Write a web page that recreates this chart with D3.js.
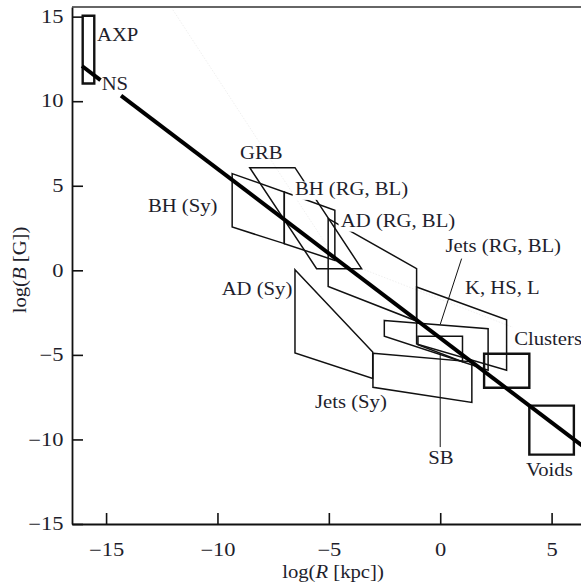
<!DOCTYPE html>
<html>
<head>
<meta charset="utf-8">
<script src="https://cdn.jsdelivr.net/npm/d3@7"></script>
<style>
  html, body { margin: 0; padding: 0; background: #fff; }
  svg { display: block; font-family: "Liberation Serif", "Times New Roman", serif; }
</style>
</head>
<body>
<svg id="chart" width="581" height="588"></svg>
<script>
// axis ticks
const xTicks = [-15, -10, -5, 0, 5];
const yTicks = [-15, -10, -5, 0, 5, 10, 15];

// object classes: corners in (log R, log B)
const regionNames = ['AXP / NS', 'GRB', 'BH (Sy)', 'BH (RG, BL)', 'AD (RG, BL)', 'AD (Sy)',
  'Jets (Sy)', 'Jets (RG, BL)', 'K, HS, L', 'SB', 'Clusters', 'Voids'];
const regionCorners = [
  [[-16.05, 15.05], [-15.53, 15.05], [-15.53, 11.05], [-16.05, 11.05]],
  [[-8.55, 6.07], [-6.52, 6.07], [-3.53, 0.1], [-5.55, 0.1]],
  [[-9.34, 5.72], [-7.0, 4.63], [-7.0, 1.58], [-9.34, 2.56]],
  [[-7.0, 4.63], [-4.73, 3.55], [-4.73, 0.59], [-7.0, 1.58]],
  [[-5.03, 3.06], [-1.06, 0.1], [-1.06, -3.0], [-5.03, -0.95]],
  [[-6.52, 0.04], [-3.03, -4.83], [-3.03, -6.4], [-6.52, -4.89]],
  [[-3.02, -4.91], [1.42, -5.41], [1.42, -7.81], [-3.02, -6.92]],
  [[-2.51, -2.96], [2.15, -3.45], [2.15, -5.91], [-2.51, -3.9]],
  [[-1.06, -0.99], [2.98, -2.92], [2.98, -5.91], [-1.06, -4.35]],
  [[-1.0, -3.9], [1.0, -3.9], [1.0, -5.4], [-1.0, -4.4]],
  [[1.97, -4.93], [4.0, -4.93], [4.0, -6.94], [1.97, -6.94]],
  [[4.0, -8.0], [6.0, -8.0], [6.0, -10.9], [4.0, -10.9]]
];
const heavyRegions = ['AXP / NS', 'Clusters', 'Voids'];

// fitted relation log B = a + b log R, drawn in two pieces (gap at NS)
const fitA = -4.0;
const fitB = -1.0;
const fitPieces = [[-16.08, -15.25], [-14.33, 6.6]];

// leader lines
const leaders = [
  [[0.96, 0.69], [0.0, -3.2]],
  [[0.0, -4.9], [0.0, -10.45]]
];
// faint hairlines
const faint = [
  [[-12.0, 15.4], [-4.95, 1.18]],
  [[-3.53, 0.1], [3.26, -3.37]]
];

// labels: text, anchor (log R, log B) of left/baseline
const labelText = ['AXP', 'NS', 'GRB', 'BH (Sy)', 'BH (RG, BL)', 'AD (RG, BL)', 'Jets (RG, BL)',
  'K, HS, L', 'AD (Sy)', 'Clusters', 'Jets (Sy)', 'SB', 'Voids'];
const labelAt = [[-15.41, 13.54], [-15.2, 10.64], [-8.99, 6.56], [-13.12, 3.45], [-6.52, 4.44],
  [-4.46, 2.56], [0.24, 1.08], [1.11, -1.38], [-9.81, -1.48], [3.32, -4.44], [-5.62, -8.14],
  [-0.54, -11.43], [3.85, -12.18]];
const backed = ['BH (RG, BL)', 'AD (RG, BL)', 'Jets (RG, BL)', 'K, HS, L', 'Clusters'];

const svg = d3.select('#chart');
const L = 72, R = 581, T = 7, B = 524;
const x = d3.scaleLinear().domain([-16.53, 6.32]).range([L, R]);
const y = d3.scaleLinear().domain([-15, 15.57]).range([B, T]);
const ink = '#1e1e2c';
const SX = 1.15;

const plot = svg.append('g');

// faint lines
plot.selectAll('line.faint').data(faint).enter().append('line')
  .attr('x1', d => x(d[0][0])).attr('y1', d => y(d[0][1]))
  .attr('x2', d => x(d[1][0])).attr('y2', d => y(d[1][1]))
  .attr('stroke', '#e4e4e4').attr('stroke-width', 0.6).attr('stroke-dasharray', '1.5,1.5');

// regions
const lineGen = d3.line().x(d => x(d[0])).y(d => y(d[1]));
plot.selectAll('path.region').data(regionCorners).enter().append('path')
  .attr('d', d => lineGen(d) + 'Z')
  .attr('fill', 'none')
  .attr('stroke', '#111')
  .attr('stroke-linejoin', 'miter')
  .attr('stroke-width', (d, i) => heavyRegions.includes(regionNames[i]) ? 2.4 : 1.5);

// leaders
plot.selectAll('line.leader').data(leaders).enter().append('line')
  .attr('x1', d => x(d[0][0])).attr('y1', d => y(d[0][1]))
  .attr('x2', d => x(d[1][0])).attr('y2', d => y(d[1][1]))
  .attr('stroke', '#111').attr('stroke-width', 1);

// fit line
plot.selectAll('line.fit').data(fitPieces).enter().append('line')
  .attr('x1', d => x(d[0])).attr('y1', d => y(fitA + fitB * d[0]))
  .attr('x2', d => x(d[1])).attr('y2', d => y(fitA + fitB * d[1]))
  .attr('stroke', '#000').attr('stroke-width', 4);

// labels, some with white backing
const lab = svg.append('g').selectAll('g').data(labelText).enter().append('g')
  .attr('transform', (d, i) => `translate(${x(labelAt[i][0])},${y(labelAt[i][1])}) scale(${SX},1)`);
lab.filter(d => backed.includes(d)).append('rect').attr('fill', '#fff');
lab.append('text')
  .attr('font-size', 18)
  .attr('fill', ink)
  .text(d => d);
lab.each(function() {
  const g = d3.select(this);
  const bb = g.select('text').node().getBBox();
  g.select('rect')
    .attr('x', bb.x - 2).attr('y', bb.y + 2)
    .attr('width', bb.width + 4).attr('height', bb.height - 2);
});

// axes
const yAxis = svg.append('g')
  .attr('transform', `translate(${L},0)`)
  .call(d3.axisLeft(y).tickValues(yTicks).tickSizeInner(-11).tickSizeOuter(0).tickPadding(7));
const xAxis = svg.append('g')
  .attr('transform', `translate(0,${B})`)
  .call(d3.axisBottom(x).tickValues(xTicks).tickSizeInner(-11).tickSizeOuter(0).tickPadding(19));

[yAxis, xAxis].forEach(ax => {
  ax.select('.domain').attr('stroke', '#111').attr('stroke-width', 1.8);
  ax.selectAll('.tick line').attr('stroke', '#111').attr('stroke-width', 1.6);
  ax.selectAll('.tick text')
    .attr('font-family', '"Liberation Serif", "Times New Roman", serif')
    .attr('font-size', 18)
    .attr('fill', ink);
});
yAxis.selectAll('.tick text').attr('x', -6.8).attr('transform', 'scale(1.25,1)');
xAxis.selectAll('.tick text').attr('transform', 'scale(1.25,1)');

// top frame line
svg.append('line')
  .attr('x1', L).attr('x2', R).attr('y1', T).attr('y2', T)
  .attr('stroke', '#333').attr('stroke-width', 1.6);

// axis titles
const xt = svg.append('text')
  .attr('transform', `translate(333,578) scale(${SX},1)`)
  .attr('text-anchor', 'middle').attr('font-size', 18).attr('fill', ink);
xt.append('tspan').text('log(');
xt.append('tspan').attr('font-style', 'italic').text('R');
xt.append('tspan').text(' [kpc])');

const yt = svg.append('text')
  .attr('transform', `translate(26,270) rotate(-90) scale(${SX},1)`)
  .attr('text-anchor', 'middle').attr('font-size', 18).attr('fill', ink);
yt.append('tspan').text('log(');
yt.append('tspan').attr('font-style', 'italic').text('B');
yt.append('tspan').text(' [G])');
</script>
</body>
</html>
